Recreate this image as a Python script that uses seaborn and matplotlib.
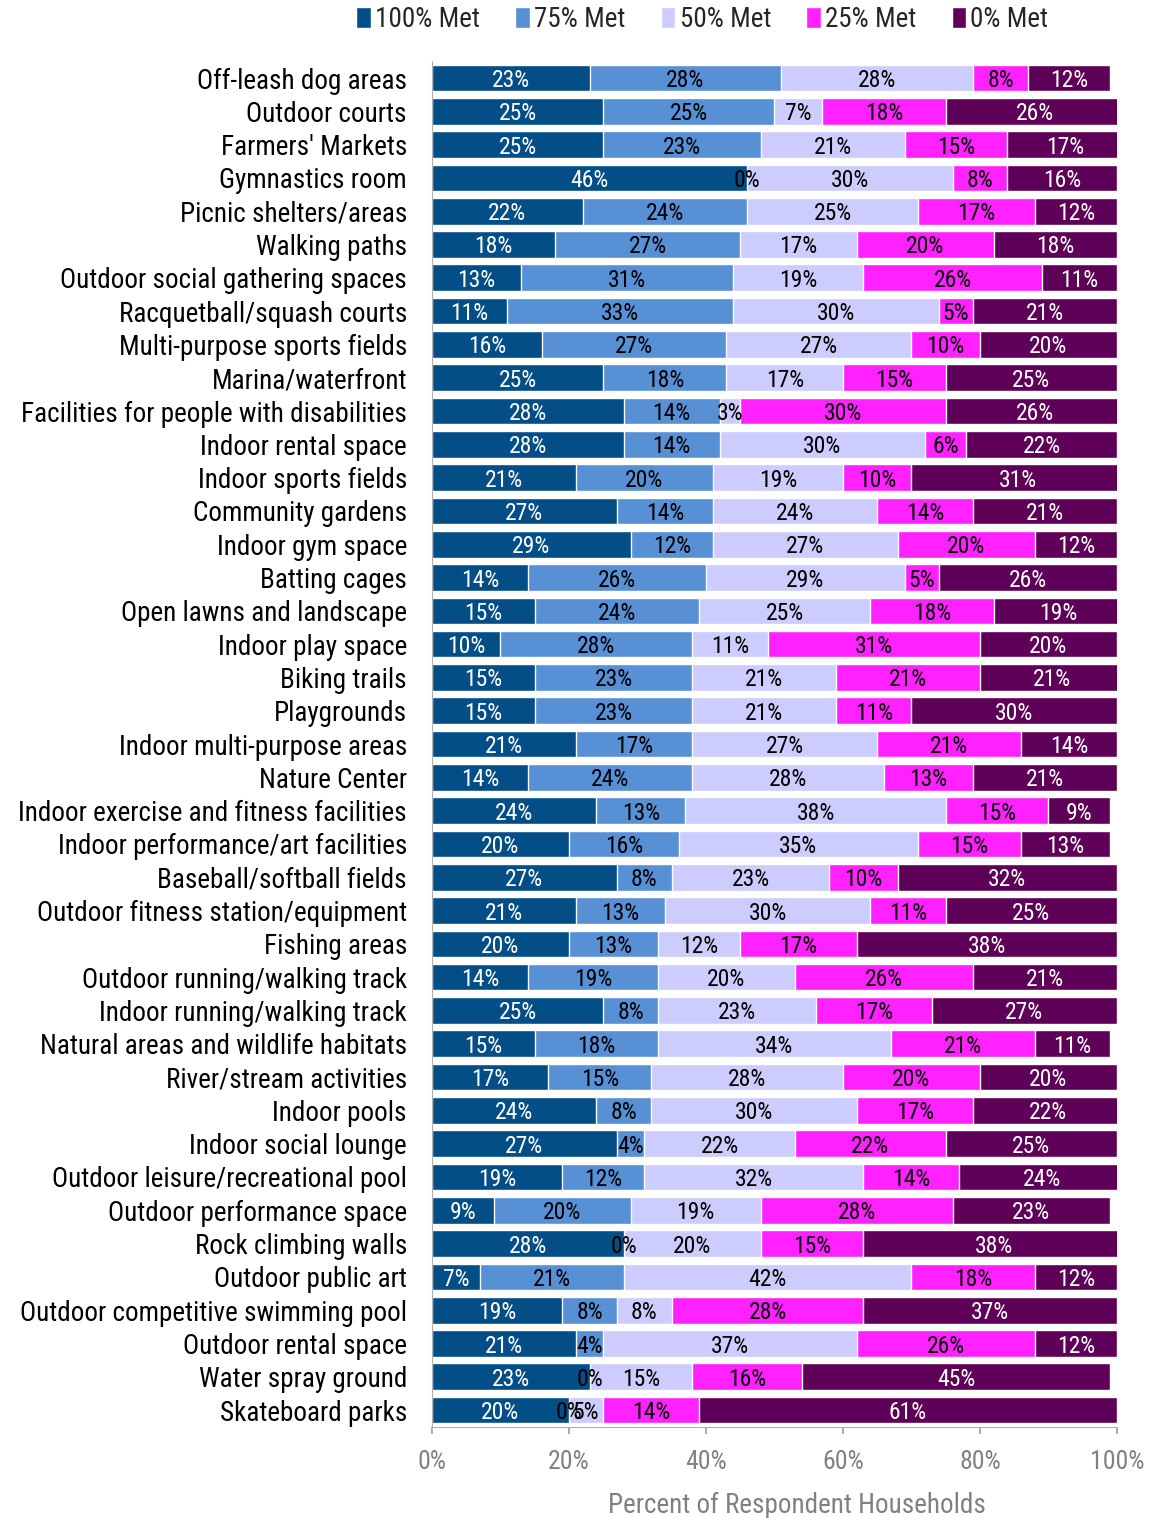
import numpy as np
import pandas as pd
import matplotlib
matplotlib.use("Agg")
import matplotlib.pyplot as plt
from matplotlib.patches import Patch
import seaborn as sns

# facilities, top to bottom
facilities = [
    "Off-leash dog areas", "Outdoor courts", "Farmers' Markets", "Gymnastics room",
    "Picnic shelters/areas", "Walking paths", "Outdoor social gathering spaces",
    "Racquetball/squash courts", "Multi-purpose sports fields", "Marina/waterfront",
    "Facilities for people with disabilities", "Indoor rental space",
    "Indoor sports fields", "Community gardens", "Indoor gym space", "Batting cages",
    "Open lawns and landscape", "Indoor play space", "Biking trails", "Playgrounds",
    "Indoor multi-purpose areas", "Nature Center",
    "Indoor exercise and fitness facilities", "Indoor performance/art facilities",
    "Baseball/softball fields", "Outdoor fitness station/equipment", "Fishing areas",
    "Outdoor running/walking track", "Indoor running/walking track",
    "Natural areas and wildlife habitats", "River/stream activities", "Indoor pools",
    "Indoor social lounge", "Outdoor leisure/recreational pool",
    "Outdoor performance space", "Rock climbing walls", "Outdoor public art",
    "Outdoor competitive swimming pool", "Outdoor rental space",
    "Water spray ground", "Skateboard parks",
]

met_100 = [23, 25, 25, 46, 22, 18, 13, 11, 16, 25, 28, 28, 21, 27, 29, 14, 15, 10, 15, 15,
           21, 14, 24, 20, 27, 21, 20, 14, 25, 15, 17, 24, 27, 19, 9, 28, 7, 19, 21, 23, 20]
met_75 = [28, 25, 23, 0, 24, 27, 31, 33, 27, 18, 14, 14, 20, 14, 12, 26, 24, 28, 23, 23,
          17, 24, 13, 16, 8, 13, 13, 19, 8, 18, 15, 8, 4, 12, 20, 0, 21, 8, 4, 0, 0]
met_50 = [28, 7, 21, 30, 25, 17, 19, 30, 27, 17, 3, 30, 19, 24, 27, 29, 25, 11, 21, 21,
          27, 28, 38, 35, 23, 30, 12, 20, 23, 34, 28, 30, 22, 32, 19, 20, 42, 8, 37, 15, 5]
met_25 = [8, 18, 15, 8, 17, 20, 26, 5, 10, 15, 30, 6, 10, 14, 20, 5, 18, 31, 21, 11,
          21, 13, 15, 15, 10, 11, 17, 26, 17, 21, 20, 17, 22, 14, 28, 15, 18, 28, 26, 16, 14]
met_0 = [12, 26, 17, 16, 12, 18, 11, 21, 20, 25, 26, 22, 31, 21, 12, 26, 19, 20, 21, 30,
         14, 21, 9, 13, 32, 25, 38, 21, 27, 11, 20, 22, 25, 24, 23, 38, 12, 37, 12, 45, 61]

series_names = ["100% Met", "75% Met", "50% Met", "25% Met", "0% Met"]
colors = ["#034E86", "#5890D6", "#CCCCFF", "#FF21FF", "#5F0058"]
text_colors = ["white", "black", "black", "black", "white"]

df = pd.DataFrame({"facility": facilities, "100% Met": met_100, "75% Met": met_75,
                   "50% Met": met_50, "25% Met": met_25, "0% Met": met_0})
cum = df[series_names].cumsum(axis=1)

font = ["Roboto Condensed", "Lato", "DejaVu Sans"]
sns.set_theme(style="white")
plt.rcParams["font.family"] = font

fig = plt.figure(figsize=(11.55, 15.18), dpi=100)
ax = fig.add_axes([0.374, 0.0601, 0.593, 0.8995])

# stacked bars: draw cumulative totals from the outermost layer inward
for name, col in reversed(list(zip(series_names, colors))):
    sns.barplot(x=cum[name], y=df["facility"], orient="h", color=col,
                width=0.8, edgecolor="white", linewidth=1, saturation=1, ax=ax)

# segment labels
for name, tcol in zip(series_names, text_colors):
    for i, (v, c) in enumerate(zip(df[name], cum[name])):
        ax.text(c - v / 2, i, f"{v}%", ha="center", va="center_baseline",
                fontsize=17, color=tcol)

ax.set_xlim(0, 100)
ax.set_ylim(len(facilities) - 0.5, -0.5)
ax.set_xticks(np.arange(0, 101, 20))
ax.set_xticklabels([f"{t}%" for t in range(0, 101, 20)], color="#808080", fontsize=18.5)
ax.tick_params(axis="x", direction="out", length=5, color="#a0a0a0", pad=12, bottom=True)
ax.tick_params(axis="y", length=0, labelsize=19.5, pad=18, labelcolor="black")
ax.set_ylabel("")
ax.set_xlabel("Percent of Respondent Households", color="#808080", fontsize=19.5)
ax.xaxis.set_label_coords(0.533, -0.048)
for s in ["top", "right"]:
    ax.spines[s].set_visible(False)
for s in ["left", "bottom"]:
    ax.spines[s].set_color("#b0b0b0")
    ax.spines[s].set_linewidth(0.8)

handles = [Patch(facecolor=c, label=n) for n, c in zip(series_names, colors)]
fig.legend(handles=handles, loc="upper center", bbox_to_anchor=(0.608, 1.012),
           ncol=5, frameon=False, fontsize=19.5, handlelength=0.55, handleheight=0.8,
           handletextpad=0.15, columnspacing=1.3)

fig.savefig("out.png", dpi=100)
